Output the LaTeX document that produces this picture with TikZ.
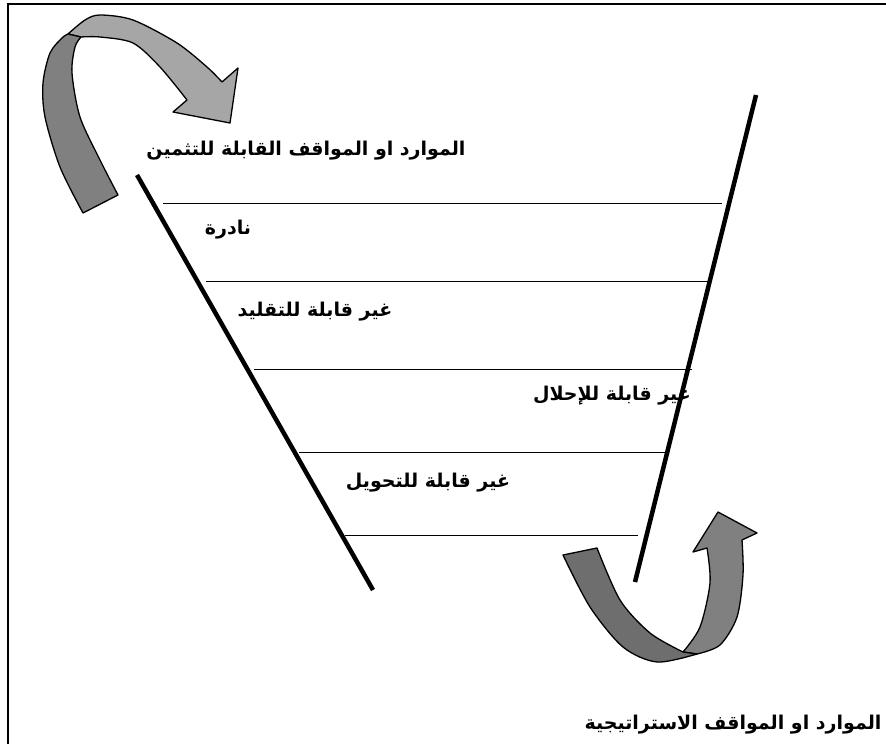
\documentclass[tikz,border=0pt]{standalone}
\usepackage{fontspec}
\newfontfamily\arabicfont[Script=Arabic]{DejaVu Sans}
\TeXXeTstate=1
\begin{document}
\begin{tikzpicture}[x=1pt,y=-1pt,
  label/.style={font=\arabicfont\bfseries\fontsize{19}{22}\selectfont, inner sep=0pt},
  rung/.style={line width=1pt},
  side/.style={line width=4.5pt},
  frameline/.style={line width=2.5pt},
  band/.style={draw=black, line width=1.3pt, line join=round}]
\useasboundingbox (0,0) rectangle (886,744);
\clip (0,0) rectangle (886,744);

% frame
\coordinate (fTL) at (8,4);
\coordinate (fTR) at (886,4);
\coordinate (fBL) at (8,744);
\draw[frameline] (fTR) -- (fTL) -- (fBL);

% curved arrow at the top left: dark strip rising, light strip turning down
\filldraw[band, fill={rgb,255:red,166;green,166;blue,166}]
  plot[smooth] coordinates {(68,34) (85,20) (100,15) (133,20) (177,43) (207,67) (222,82)}
  -- (238,68) -- (230,123) -- (173,112) -- (187,100)
  -- plot[smooth] coordinates {(187,100) (160,67) (133,43) (100,37) (81,37)}
  -- cycle;
\filldraw[band, fill={rgb,255:red,128;green,128;blue,128}]
  plot[smooth] coordinates {(83,213) (60,167) (45,117) (43,83) (50,53) (62,38) (68,34)}
  -- (81,37)
  -- plot[smooth] coordinates {(81,37) (75,47) (72,73) (80,117) (100,160) (118,195)}
  -- cycle;

% texts of the funnel
\node[label] (t1) at (306,151) {\beginR الموارد او المواقف القابلة للتثمين\endR};
\node[label] (t2) at (228,230) {\beginR نادرة\endR};
\node[label] (t3) at (315,312) {\beginR غير قابلة للتقليد\endR};
\node[label] (t4) at (612,396) {\beginR غير قابلة للإحلال\endR};
\node[label] (t5) at (428,483) {\beginR غير قابلة للتحويل\endR};
\node[label] (t6) at (733,725) {\beginR الموارد او المواقف الاستراتيجية\endR};

% funnel sides
\coordinate (lTop) at (137,175);
\coordinate (lBot) at (373,590);
\coordinate (rTop) at (756,95);
\coordinate (rBot) at (635,582);

% levels
\coordinate (a1) at (163,203); \coordinate (b1) at (722,203);
\coordinate (a2) at (206,281); \coordinate (b2) at (710,281);
\coordinate (a3) at (254,369); \coordinate (b3) at (692,369);
\coordinate (a4) at (299,452); \coordinate (b4) at (668,452);
\coordinate (a5) at (345,535); \coordinate (b5) at (638,535);
\foreach \i in {1,...,5} \draw[rung] (a\i) -- (b\i);

\draw[side] (lTop) -- (lBot);
\draw[side] (rTop) -- (rBot);

% curved arrow at the bottom: dark strip going down, lighter strip rising
\filldraw[band, fill={rgb,255:red,128;green,128;blue,128}]
  plot[smooth] coordinates {(697,654) (720,645) (737,617) (743,575) (742,540)}
  -- (757,533) -- (718,512) -- (693,552) -- (707,548)
  -- plot[smooth] coordinates {(707,548) (710,583) (700,627) (683,652)}
  -- cycle;
\filldraw[band, fill={rgb,255:red,110;green,110;blue,110}]
  plot[smooth] coordinates {(563,555) (590,607) (623,647) (657,662) (697,654)}
  -- (683,652)
  -- plot[smooth] coordinates {(683,652) (650,633) (620,600) (597,548)}
  -- cycle;
\end{tikzpicture}
\end{document}
